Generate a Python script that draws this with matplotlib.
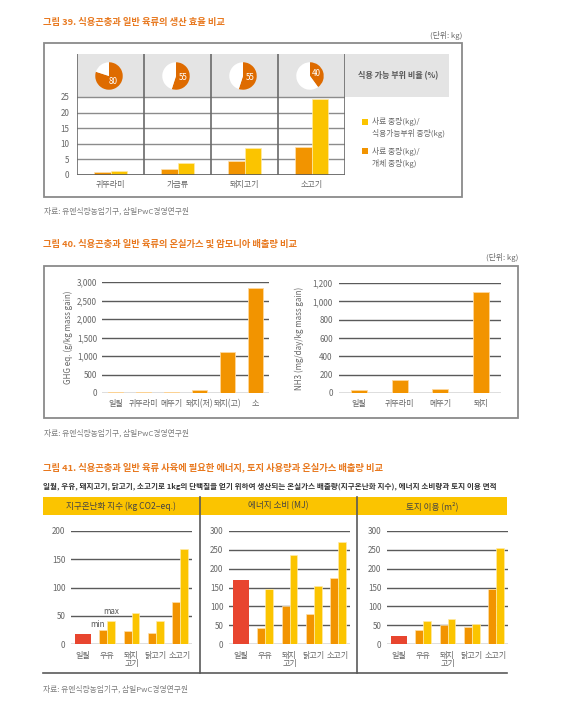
import matplotlib
matplotlib.use("Agg")
import matplotlib.pyplot as plt
from matplotlib.patches import Rectangle
import numpy as np

plt.rcParams['font.family'] = ['Noto Sans CJK KR', 'DejaVu Sans']

W, H = 564, 706

ORANGE = '#F29400'
YELLOW = '#FBC400'
RED = '#E8452F'
PIE_OR = '#DE6B00'
TITLE = '#E8781E'
GRID = '#5A5A5A'
TXT = '#666666'
SRC = '#7A7A7A'

# fig 39 - 생산 효율
f39_cats = ['귀뚜라미', '가금류', '돼지고기', '소고기']
f39_edible_pct = [80, 55, 55, 40]
f39_feed_live = [1.1, 2.0, 4.4, 9.0]
f39_feed_edible = [1.4, 3.9, 8.8, 24.5]

# fig 40 - 온실가스 / 암모니아
f40_ghg_cats = ['일월', '귀뚜라미', '메뚜기', '돼지(저)', '돼지(고)', '소']
f40_ghg = [15, 20, 40, 70, 1100, 2850]
f40_nh3_cats = ['일월', '귀뚜라미', '메뚜기', '돼지']
f40_nh3 = [35, 138, 47, 1105]

# fig 41 - 지구온난화 / 에너지 / 토지
f41_cats = ['일월', '우유', '돼지\n고기', '닭고기', '소고기']
gwp_worm, gwp_min, gwp_max = 18, [25, 23, 20, 75], [40, 54, 40, 168]
mj_worm, mj_min, mj_max = 171, [42, 100, 80, 176], [147, 235, 155, 272]
land_worm, land_min, land_max = 22, [36, 50, 46, 146], [61, 66, 52, 254]

FS = 5.8      # tick / label text
TFS = 6.7     # figure titles
SFS = 5.6     # sources, units

fig = plt.figure(figsize=(W / 100, H / 100), dpi=100)
fig.patch.set_facecolor('white')

# overlay for frames and text, in pixel coords
ax0 = fig.add_axes([0, 0, 1, 1])
ax0.set_xlim(0, W)
ax0.set_ylim(H, 0)
ax0.axis('off')


def add_ax(x0, y0, x1, y1):
    a = fig.add_axes([x0 / W, 1 - y1 / H, (x1 - x0) / W, (y1 - y0) / H])
    a.patch.set_alpha(0)
    return a


def style(a, fs=FS):
    for s in a.spines.values():
        s.set_visible(False)
    a.tick_params(length=0, labelsize=fs, labelcolor=TXT)


# ---------------- 그림 39 ----------------
ax0.text(43, 22, '그림 39. 식용곤충과 일반 육류의 생산 효율 비교', color=TITLE,
         fontsize=TFS, fontweight='bold', va='center')
ax0.text(462, 36, '(단위: kg)', color=TXT, fontsize=SFS, ha='right', va='center')
ax0.add_patch(Rectangle((44, 43), 418, 154, fill=False, ec='#8A8A8A', lw=1.3))
ax0.add_patch(Rectangle((345, 54), 104, 43, color='#E4E4E4', lw=0))
ax0.text(398, 75.5, '식용 가능 부위 비율 (%)', color='#555555', fontsize=5.8,
         fontweight='bold', ha='center', va='center')

ax0.add_patch(Rectangle((362, 119), 6, 6, color=YELLOW, lw=0))
ax0.text(372, 122, '사료 중량(kg)/', color=TXT, fontsize=5.6, va='center')
ax0.text(372, 134, '식용가능부위 중량(kg)', color=TXT, fontsize=5.6, va='center')
ax0.add_patch(Rectangle((362, 148), 6, 6, color=ORANGE, lw=0))
ax0.text(372, 151, '사료 중량(kg)/', color=TXT, fontsize=5.6, va='center')
ax0.text(372, 163, '개체 중량(kg)', color=TXT, fontsize=5.6, va='center')

top39 = 25 * (175 - 54) / (175 - 97)
a39 = add_ax(77, 54, 345, 175)
style(a39)
a39.set_xlim(-0.5, 3.5)
a39.set_ylim(0, top39)
a39.axhspan(25, top39, color='#E4E4E4', zorder=0, lw=0)
for y in [5, 10, 15, 20, 25]:
    a39.axhline(y, color='#8C8C8C', lw=1.0, zorder=1)
a39.axhline(0, color=GRID, lw=1.2, zorder=3)
for x in [-0.5, 0.5, 1.5, 2.5, 3.5]:
    a39.axvline(x, color='#6A6A6A', lw=1.2, zorder=3)
xi = np.arange(len(f39_cats))
a39.bar(xi - 0.12, f39_feed_live, 0.24, color=ORANGE, ec='#FFE2B0', lw=0.5, zorder=2)
a39.bar(xi + 0.12, f39_feed_edible, 0.24, color=YELLOW, ec='#FFEBA8', lw=0.5, zorder=2)
a39.set_yticks([0, 5, 10, 15, 20, 25])
a39.set_xticks(xi, f39_cats)
a39.tick_params(axis='y', pad=5.5)
a39.tick_params(axis='x', pad=3.5)

for i, v in enumerate(f39_edible_pct):
    cx = 77 + (i + 0.5) * 67 - 1.5
    pa = add_ax(cx - 14, 76 - 14, cx + 14, 76 + 14)
    pa.pie([v, 100 - v], colors=[PIE_OR, 'white'], startangle=90,
           counterclock=False, radius=1)
    pa.set_xlim(-1.02, 1.02)
    pa.set_ylim(-1.02, 1.02)
    pa.set_aspect('equal')
    mid = np.deg2rad(90 - v * 3.6 / 2)
    pa.text(0.5 * np.cos(mid), 0.5 * np.sin(mid), str(v), color='white',
            fontsize=5.8, ha='center', va='center')

ax0.text(44, 211, '자료: 유엔식량농업기구, 삼일PwC경영연구원', color=SRC, fontsize=SFS, va='center')

# ---------------- 그림 40 ----------------
ax0.text(43, 244, '그림 40. 식용곤충과 일반 육류의 온실가스 및 암모니아 배출량 비교',
         color=TITLE, fontsize=TFS, fontweight='bold', va='center')
ax0.text(518, 258, '(단위: kg)', color=TXT, fontsize=SFS, ha='right', va='center')
ax0.add_patch(Rectangle((44, 266), 474, 152, fill=False, ec='#8A8A8A', lw=1.3))

a40 = add_ax(102, 282, 269, 393)
style(a40)
a40.set_xlim(-0.5, 5.5)
a40.set_ylim(0, 3000)
for y in range(0, 3001, 500):
    a40.axhline(y, color=GRID, lw=1.0, zorder=1)
a40.bar(np.arange(6), f40_ghg, 0.54, color=ORANGE, ec='#FFD89C', lw=0.6, zorder=2)
a40.set_yticks(range(0, 3001, 500), [f'{v:,}' for v in range(0, 3001, 500)])
a40.set_xticks(np.arange(6), f40_ghg_cats)
a40.tick_params(axis='y', pad=3.5)
a40.tick_params(axis='x', pad=4.5)
a40.set_ylabel('GHG eq. (g/kg mass gain)', fontsize=FS, color=TXT)
a40.yaxis.set_label_coords(-0.175, 0.5)

b40 = add_ax(339, 283, 501, 393)
style(b40)
b40.set_xlim(-0.5, 3.5)
b40.set_ylim(0, 1200)
for y in range(0, 1201, 200):
    b40.axhline(y, color=GRID, lw=1.0, zorder=1)
b40.bar(np.arange(4), f40_nh3, 0.4, color=ORANGE, ec='#FFD89C', lw=0.6, zorder=2)
b40.set_yticks(range(0, 1201, 200), [f'{v:,}' for v in range(0, 1201, 200)])
b40.set_xticks(np.arange(4), f40_nh3_cats)
b40.tick_params(axis='y', pad=4.5)
b40.tick_params(axis='x', pad=4.5)
b40.set_ylabel('NH3 (mg/day/kg mass gain)', fontsize=FS, color=TXT)
b40.yaxis.set_label_coords(-0.215, 0.5)

ax0.text(44, 433, '자료: 유엔식량농업기구, 삼일PwC경영연구원', color=SRC, fontsize=SFS, va='center')

# ---------------- 그림 41 ----------------
ax0.text(43, 467, '그림 41. 식용곤충과 일반 육류 사육에 필요한 에너지, 토지 사용량과 온실가스 배출량 비교',
         color=TITLE, fontsize=TFS, fontweight='bold', va='center')
ax0.text(43, 486, '일월, 우유, 돼지고기, 닭고기, 소고기로 1kg의 단백질을 얻기 위하여 생산되는 '
         '온실가스 배출량(지구온난화 지수), 에너지 소비량과 토지 이용 면적',
         color='#333333', fontsize=5.45, fontweight='bold', va='center')
ax0.add_patch(Rectangle((43, 497), 464, 18, color=YELLOW, lw=0))
for x in [200, 357]:
    ax0.plot([x, x], [497, 673], color=GRID, lw=1.2)
ax0.plot([43, 507], [673, 673], color=GRID, lw=1.2)
heads = ['지구온난화 지수 (kg CO2–eq.)', '에너지 소비 (MJ)', '토지 이용 (m²)']
for hx, t in zip([121, 278, 432], heads):
    ax0.text(hx, 506, t, color='#444444', fontsize=6.2, ha='center', va='center')

panels = [
    ((71, 192), 200, 50, gwp_worm, gwp_min, gwp_max),
    ((229, 350), 300, 50, mj_worm, mj_min, mj_max),
    ((387, 508), 300, 50, land_worm, land_min, land_max),
]
for k, ((x0, x1), ymax, step, worm, lo, hi) in enumerate(panels):
    a = add_ax(x0, 531, x1, 644)
    style(a)
    a.set_xlim(-0.5, 4.5)
    a.set_ylim(0, ymax)
    for y in range(0, ymax + 1, step):
        a.axhline(y, color=GRID, lw=1.0, zorder=1)
    a.bar(0, worm, 0.66, color=RED, zorder=2)
    xs = np.arange(1, 5)
    a.bar(xs - 0.165, lo, 0.33, color=ORANGE, ec='#FFE0AA', lw=0.5, zorder=2)
    a.bar(xs + 0.165, hi, 0.33, color=YELLOW, ec='#FFEBA8', lw=0.5, zorder=2)
    a.set_yticks(range(0, ymax + 1, step))
    a.set_xticks(np.arange(5), f41_cats)
    for lbl in a.get_xticklabels():
        lbl.set_linespacing(0.85)
    a.tick_params(axis='y', pad=4.0)
    a.tick_params(axis='x', pad=5.0)
    if k == 0:
        a.text(0.6, 35, 'min', color='#555555', fontsize=FS, ha='center', va='center')
        a.text(1.17, 57, 'max', color='#555555', fontsize=FS, ha='center', va='center')

ax0.text(43, 689, '자료: 유엔식량농업기구, 삼일PwC경영연구원', color=SRC, fontsize=SFS, va='center')

fig.savefig('out.png', dpi=100)
